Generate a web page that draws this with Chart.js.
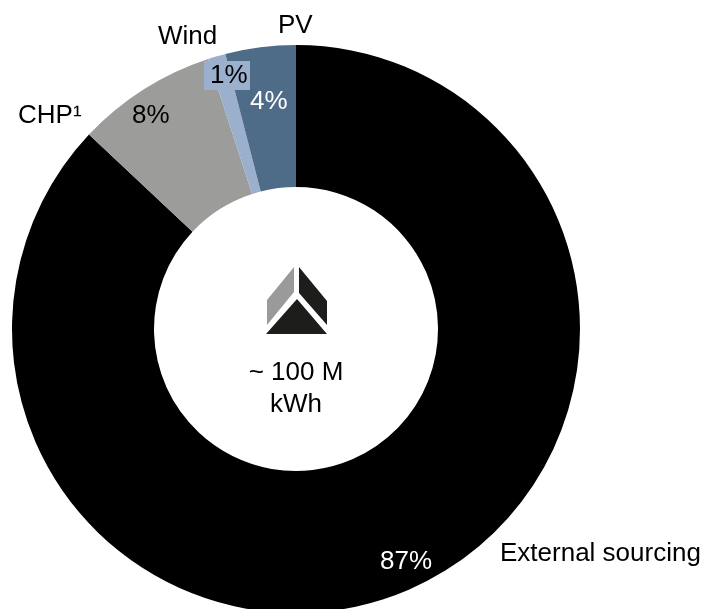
<!DOCTYPE html>
<html>
<head>
<meta charset="utf-8">
<title>Energy mix</title>
<script src="https://cdn.jsdelivr.net/npm/chart.js@4"></script>
<style>
    html, body { margin: 0; padding: 0; background: #fff; overflow: hidden; }
    #contenedor { position: relative; width: 706px; height: 658px; }
</style>
</head>
<body>
<div id="contenedor"><canvas id="graficoEnergia"></canvas></div>
<script>
const categorias = ['External sourcing', 'CHP¹', 'Wind', 'PV'];
const valores = [87, 8, 1, 4];
const colores = ['#000000', '#9c9c9a', '#9bb0cd', '#4e6b88'];
const textoCentro = ['~ 100 M', 'kWh'];

// Where each name and percentage sits, in the same order as categorias
const posNombres = [[500, 561], [18, 123], [158, 44], [278, 33]];
const posPorcentajes = [[380, 569], [132, 123], [210, 83], [250, 109]];
const colorPorcentajes = ['#ffffff', '#000000', '#000000', '#ffffff'];

const FUENTE = '26px "Liberation Sans", Arial, sans-serif';

function dibujarLogo(ctx, cx, cy) {
    const poligono = (color, puntos) => {
        ctx.fillStyle = color;
        ctx.beginPath();
        puntos.forEach(([x, y], i) => i ? ctx.lineTo(cx + x, cy + y) : ctx.moveTo(cx + x, cy + y));
        ctx.closePath();
        ctx.fill();
    };
    poligono('#9a9a9a', [[-2, -62], [-2, -37], [-29, -4], [-29, -29]]);
    poligono('#1d1d1b', [[3, -62], [31, -28], [31, -4], [3, -36]]);
    poligono('#1d1d1b', [[1, -30], [31, 5], [-30, 5]]);
}

const etiquetasPlugin = {
    id: 'etiquetas',
    afterDraw(chart) {
        const ctx = chart.ctx;
        const arco = chart.getDatasetMeta(0).data[0];
        ctx.save();
        ctx.font = FUENTE;
        ctx.textAlign = 'left';
        ctx.textBaseline = 'alphabetic';

        // Box behind the Wind percentage, the slice is too thin to hold it
        ctx.fillStyle = colores[2];
        ctx.fillRect(204, 61, 46, 29);

        categorias.forEach((nombre, i) => {
            ctx.fillStyle = '#000000';
            ctx.fillText(nombre, posNombres[i][0], posNombres[i][1]);
            ctx.fillStyle = colorPorcentajes[i];
            ctx.fillText(`${valores[i]}%`, posPorcentajes[i][0], posPorcentajes[i][1]);
        });

        dibujarLogo(ctx, arco.x, arco.y);

        ctx.fillStyle = '#000000';
        ctx.textAlign = 'center';
        ctx.fillText(textoCentro[0], arco.x, 380);
        ctx.fillText(textoCentro[1], arco.x, 412);
        ctx.restore();
    }
};

new Chart(document.getElementById('graficoEnergia'), {
    type: 'doughnut',
    data: {
        labels: categorias,
        datasets: [{
            data: valores,
            backgroundColor: colores,
            borderWidth: 0
        }]
    },
    options: {
        responsive: true,
        maintainAspectRatio: false,
        animation: false,
        cutout: '50%',
        layout: { padding: { left: 12, right: 126, top: 45, bottom: 45 } },
        plugins: {
            legend: { display: false },
            tooltip: { enabled: false }
        }
    },
    plugins: [etiquetasPlugin]
});
</script>
</body>
</html>
